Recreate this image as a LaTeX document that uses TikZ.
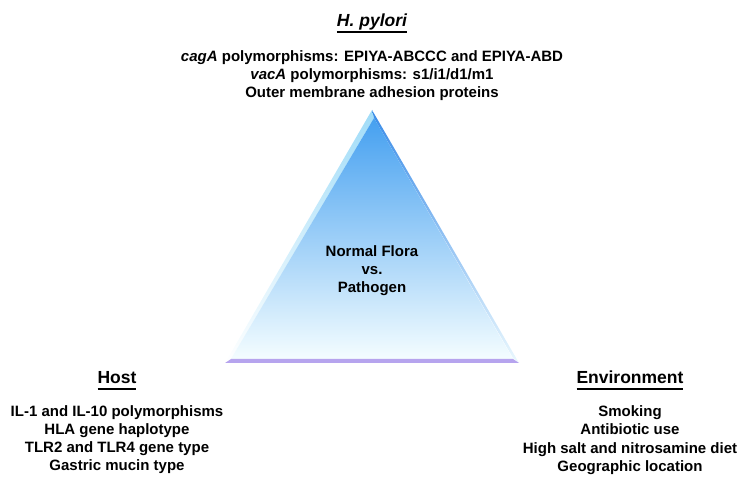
\documentclass[tikz,border=0pt]{standalone}
\usepackage{fontspec}
\setmainfont{Liberation Sans}
\newcommand\myul[1]{\setbox0\hbox{#1}\rlap{\rule[-6pt]{\wd0}{1.8pt}}\box0}
\definecolor{facetop}{HTML}{45A0F0}
\definecolor{facemid}{HTML}{96DAF8}
\definecolor{facebot}{HTML}{F4FDFF}
\definecolor{leftbev}{HTML}{A0DCF8}
\definecolor{rightbev}{HTML}{3A8CE8}
\definecolor{barcol}{HTML}{B6A4EE}
\tikzset{
  body/.style={inner sep=0pt, anchor=base, font=\fontsize{15}{18}\selectfont\bfseries},
  ttl/.style={inner sep=0pt, anchor=base, font=\fontsize{17.5}{21}\selectfont\bfseries},
}
\begin{document}
\begin{tikzpicture}[x=1pt,y=-1pt]
\useasboundingbox (0,0) rectangle (750,486);
% pyramid
\shade[top color=leftbev, bottom color=white, draw=none]
  (372,110) -- (225,363) -- (232,358) -- (374,118) -- cycle;
\shade[top color=rightbev, bottom color=white!80!facemid, draw=none]
  (372,110) -- (519,363) -- (513,358) -- (374,118) -- cycle;
\shade[top color=facetop, middle color=facemid, bottom color=facebot, draw=none]
  (374,118) -- (231,359) -- (513,359) -- cycle;
\fill[barcol] (225,363) -- (231,359) -- (513,359) -- (519,363) -- cycle;
% top block
\node[ttl] (hp) at (372,27) {\myul{\itshape H. pylori}};
\node[body] (hp1) at (372,62) {\itshape cagA\upshape{} polymorphisms: EPIYA-ABCCC and EPIYA-ABD};
\node[body] (hp2) at (372,80) {\itshape vacA\upshape{} polymorphisms: s1/i1/d1/m1};
\node[body] (hp3) at (372,98) {Outer membrane adhesion proteins};
% center
\node[body] (c1) at (372,257) {Normal Flora};
\node[body] (c2) at (372,275) {vs.};
\node[body] (c3) at (372,293) {Pathogen};
% host
\node[ttl] (host) at (117,384) {\myul{Host}};
\node[body] (h1) at (117,416.5) {IL-1 and IL-10 polymorphisms};
\node[body] (h2) at (117,434.5) {HLA gene haplotype};
\node[body] (h3) at (117,452.5) {TLR2 and TLR4 gene type};
\node[body] (h4) at (117,470.5) {Gastric mucin type};
% environment
\node[ttl] (env) at (630,384) {\myul{Environment}};
\node[body] (e1) at (630,417) {Smoking};
\node[body] (e2) at (630,435) {Antibiotic use};
\node[body] (e3) at (630,453) {High salt and nitrosamine diet};
\node[body] (e4) at (630,471) {Geographic location};
\end{tikzpicture}
\end{document}
